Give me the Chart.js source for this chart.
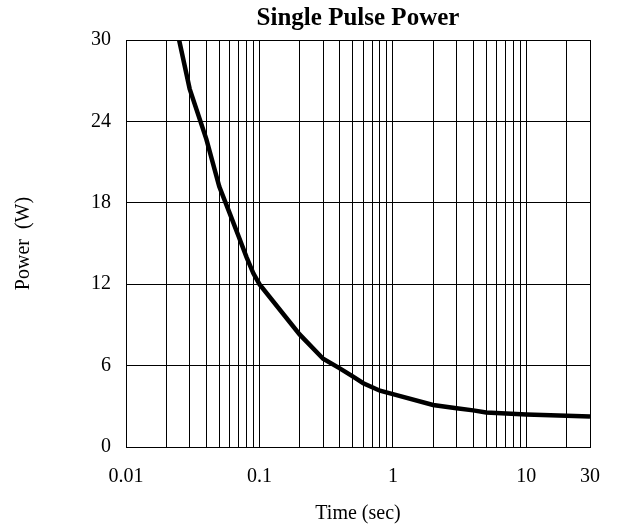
<!DOCTYPE html>
<html>
<head>
<meta charset="utf-8">
<title>Single Pulse Power</title>
<script src="https://cdn.jsdelivr.net/npm/chart.js@4/dist/chart.umd.min.js"></script>
<style>
  html, body { margin: 0; padding: 0; background: #fff; }
  #wrap { width: 620px; height: 529px; }
</style>
</head>
<body>
<div id="wrap"><canvas id="pulseChart" width="620" height="529"></canvas></div>
<script>
// パルス時間 (秒) と電力 (W)
const timeSec = [0.025, 0.03, 0.04, 0.05, 0.06, 0.07, 0.08, 0.09, 0.1, 0.2, 0.3, 0.4, 0.5, 0.6, 0.7, 0.8, 1, 2, 3, 4, 5, 10, 20, 30];
const powerW  = [30, 26.4, 22.7, 19.2, 17.2, 15.5, 14.0, 12.8, 12.0, 8.3, 6.5, 5.8, 5.2, 4.7, 4.4, 4.15, 3.9, 3.1, 2.85, 2.7, 2.55, 2.4, 2.3, 2.25];

// 目盛り
const xGridValues = [0.01, 0.02, 0.03, 0.04, 0.05, 0.06, 0.07, 0.08, 0.09,
                     0.1, 0.2, 0.3, 0.4, 0.5, 0.6, 0.7, 0.8, 0.9,
                     1, 2, 3, 4, 5, 6, 7, 8, 9,
                     10, 20, 30];
const xTickLabels = ['0.01', '0.1', '1', '10', '30'];
const yTickValues = [0, 6, 12, 18, 24, 30];

const serif = "'Liberation Serif', 'Times New Roman', Times, serif";

const ctx = document.getElementById('pulseChart');
new Chart(ctx, {
    type: 'line',
    data: {
        datasets: [{
            data: timeSec.map((t, i) => ({ x: t, y: powerW[i] })),
            borderColor: '#000',
            borderWidth: 4.5,
            pointRadius: 0,
            tension: 0,
            fill: false
        }]
    },
    options: {
        responsive: false,
        animation: false,
        layout: { padding: { left: 0, right: 30, top: 0, bottom: 0 } },
        plugins: {
            legend: { display: false },
            tooltip: { enabled: false },
            title: {
                display: true,
                fullSize: false,
                text: 'Single Pulse Power',
                color: '#000',
                font: { family: serif, size: 25, weight: 'bold' },
                padding: { top: 4, bottom: 6 }
            }
        },
        scales: {
            x: {
                type: 'logarithmic',
                min: 0.01,
                max: 30,
                afterBuildTicks: scale => {
                    scale.ticks = xGridValues.map(v => ({ value: v }));
                },
                afterFit: scale => { scale.height = 82; },
                grid: { color: '#000', lineWidth: 1, drawTicks: false },
                border: { display: true, color: '#000', width: 1 },
                ticks: {
                    autoSkip: false,
                    maxRotation: 0,
                    padding: 18,
                    color: '#000',
                    font: { family: serif, size: 20 },
                    callback: value => {
                        const s = String(value);
                        return xTickLabels.includes(s) ? s : '';
                    }
                },
                title: {
                    display: true,
                    text: 'Time (sec)',
                    color: '#000',
                    font: { family: serif, size: 20 },
                    padding: { top: 0, bottom: 3 }
                }
            },
            y: {
                min: 0,
                max: 30,
                afterBuildTicks: scale => {
                    scale.ticks = yTickValues.map(v => ({ value: v }));
                },
                afterFit: scale => { scale.width = 126; },
                grid: { color: '#000', lineWidth: 1, drawTicks: false },
                border: { display: true, color: '#000', width: 1 },
                ticks: {
                    padding: 15,
                    color: '#000',
                    font: { family: serif, size: 20 }
                },
                title: {
                    display: true,
                    text: 'Power  (W)',
                    color: '#000',
                    font: { family: serif, size: 20 },
                    padding: { top: 12, bottom: 0 }
                }
            }
        }
    }
});
</script>
</body>
</html>
